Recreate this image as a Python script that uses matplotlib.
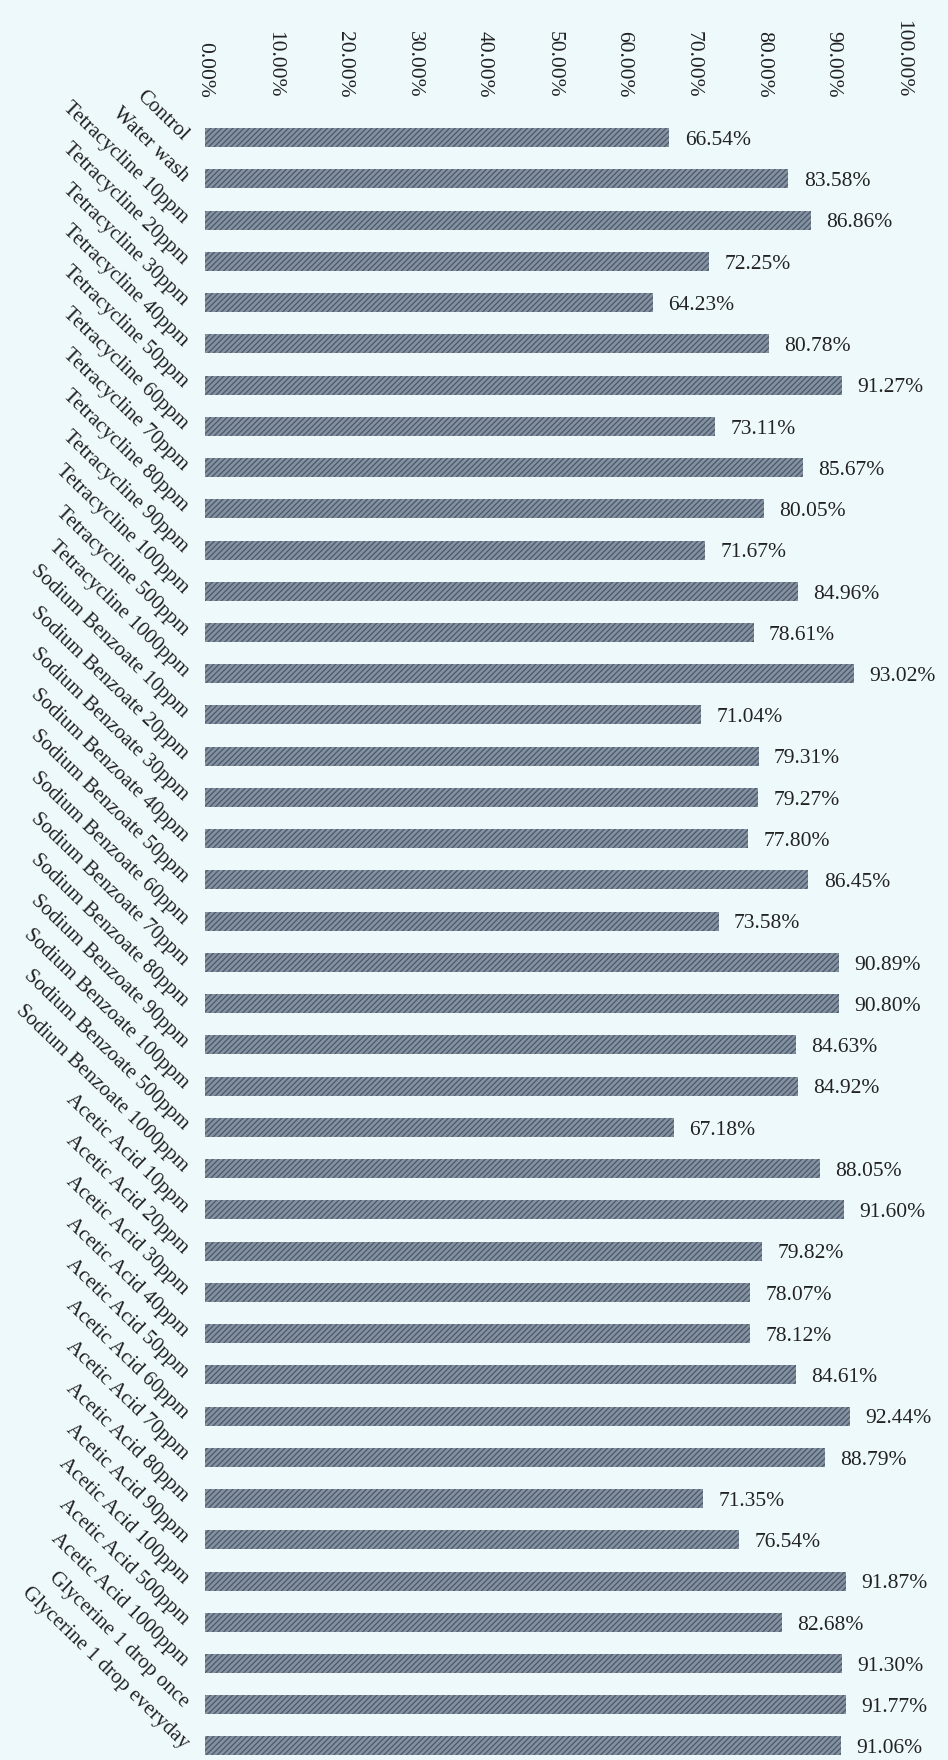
import matplotlib
matplotlib.use("Agg")
import matplotlib.pyplot as plt

categories = [
    "Control", "Water wash",
    "Tetracycline 10ppm", "Tetracycline 20ppm", "Tetracycline 30ppm",
    "Tetracycline 40ppm", "Tetracycline 50ppm", "Tetracycline 60ppm",
    "Tetracycline 70ppm", "Tetracycline 80ppm", "Tetracycline 90ppm",
    "Tetracycline 100ppm", "Tetracycline 500ppm", "Tetracycline 1000ppm",
    "Sodium Benzoate 10ppm", "Sodium Benzoate 20ppm", "Sodium Benzoate 30ppm",
    "Sodium Benzoate 40ppm", "Sodium Benzoate 50ppm", "Sodium Benzoate 60ppm",
    "Sodium Benzoate 70ppm", "Sodium Benzoate 80ppm", "Sodium Benzoate 90ppm",
    "Sodium Benzoate 100ppm", "Sodium Benzoate 500ppm", "Sodium Benzoate 1000ppm",
    "Acetic Acid 10ppm", "Acetic Acid 20ppm", "Acetic Acid 30ppm",
    "Acetic Acid 40ppm", "Acetic Acid 50ppm", "Acetic Acid 60ppm",
    "Acetic Acid 70ppm", "Acetic Acid 80ppm", "Acetic Acid 90ppm",
    "Acetic Acid 100ppm", "Acetic Acid 500ppm", "Acetic Acid 1000ppm",
    "Glycerine 1 drop once", "Glycerine 1 drop everyday",
]

values = [
    66.54, 83.58,
    86.86, 72.25, 64.23, 80.78, 91.27, 73.11, 85.67, 80.05, 71.67, 84.96, 78.61, 93.02,
    71.04, 79.31, 79.27, 77.80, 86.45, 73.58, 90.89, 90.80, 84.63, 84.92, 67.18, 88.05,
    91.60, 79.82, 78.07, 78.12, 84.61, 92.44, 88.79, 71.35, 76.54, 91.87, 82.68, 91.30,
    91.77, 91.06,
]

x_ticks = [0, 10, 20, 30, 40, 50, 60, 70, 80, 90, 100]
x_tick_labels = ["0.00%", "10.00%", "20.00%", "30.00%", "40.00%", "50.00%",
                 "60.00%", "70.00%", "80.00%", "90.00%", "100.00%"]

BG = "#eef9fc"
TEXT = "#222222"
FONT = ["Liberation Serif", "DejaVu Serif"]
FS = 15.5
FS_CAT = 15

plt.rcParams["font.family"] = FONT
plt.rcParams["hatch.linewidth"] = 0.9

W, H = 948, 1760
fig = plt.figure(figsize=(W / 100, H / 100), dpi=100, facecolor=BG)
left, right = 205 / W, 903 / W
top, bottom = 117 / H, 0.0
ax = fig.add_axes([left, bottom, right - left, 1 - top - bottom])
ax.set_facecolor(BG)

pos = list(range(len(categories)))
ax.barh(pos, values, height=0.46, color="#8391a0",
        edgecolor="#4a586a", linewidth=0, hatch="//////")

ax.set_xlim(0, 100)
ax.set_ylim(39.34, -0.5)

# value labels at the end of each bar
for p, v in zip(pos, values):
    ax.annotate(f"{v:.2f}%", xy=(v, p), xytext=(11, -2),
                textcoords="offset points", ha="left", va="center",
                fontsize=FS, color=TEXT, annotation_clip=False)

# percentage scale along the top, read downward
ax.xaxis.tick_top()
ax.set_xticks(x_ticks)
ax.set_xticklabels(x_tick_labels, rotation=-90, fontsize=FS, color=TEXT)
ax.tick_params(axis="x", length=0, pad=14)

ax.set_yticks(pos)
ax.set_yticklabels(categories, rotation=-44, ha="right", va="center",
                   rotation_mode="anchor", fontsize=FS_CAT, color=TEXT)
ax.tick_params(axis="y", length=0, pad=14)

for s in ax.spines.values():
    s.set_visible(False)

fig.savefig("out.png", dpi=100, facecolor=BG)
